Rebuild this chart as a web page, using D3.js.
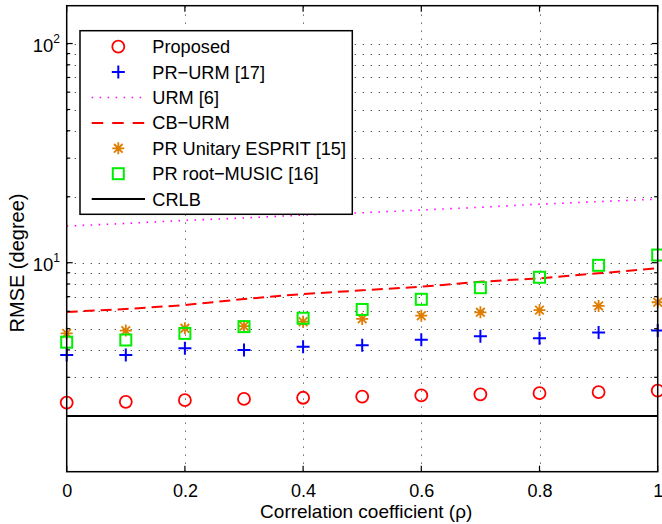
<!DOCTYPE html>
<html>
<head>
<meta charset="utf-8">
<script src="https://cdn.jsdelivr.net/npm/d3@7/dist/d3.min.js"></script>
<style>
  html, body { margin: 0; padding: 0; background: #fff; }
  svg { display: block; }
  text { font-family: "Liberation Sans", Arial, Helvetica, sans-serif; fill: #000; }
</style>
</head>
<body>
<svg id="chart" width="662" height="524"></svg>
<script>
// ---- data ----
const rho = [0, 0.1, 0.2, 0.3, 0.4, 0.5, 0.6, 0.7, 0.8, 0.9, 1.0];
const proposed  = [2.30, 2.32, 2.36, 2.39, 2.42, 2.45, 2.48, 2.51, 2.54, 2.57, 2.61];
const prUrm     = [3.79, 3.79, 4.07, 4.00, 4.14, 4.20, 4.45, 4.62, 4.52, 4.81, 4.90];
const urm       = [14.7, 15.1, 15.6, 16.0, 16.5, 16.9, 17.4, 17.9, 18.5, 19.0, 19.5];
const cbUrm     = [5.96, 6.15, 6.41, 6.83, 7.20, 7.48, 7.77, 8.19, 8.49, 8.95, 9.43];
const esprit    = [4.76, 4.90, 5.02, 5.14, 5.38, 5.54, 5.73, 5.94, 6.08, 6.35, 6.60];
const rootMusic = [4.34, 4.44, 4.76, 5.11, 5.58, 6.12, 6.81, 7.69, 8.58, 9.73, 10.84];
const crlb      = [2.0, 2.0, 2.0, 2.0, 2.0, 2.0, 2.0, 2.0, 2.0, 2.0, 2.0];

const xTicks = [0, 0.2, 0.4, 0.6, 0.8, 1];
const xTickLabels = ["0", "0.2", "0.4", "0.6", "0.8", "1"];
const yMajorTicks = [10, 100];
const yMajorExp = ["1", "2"];
const yDomain = [1.113, 148.8];
const xDomain = [0, 1];

const legendLabels = ["Proposed", "PR\u2212URM [17]", "URM [6]", "CB\u2212URM",
                      "PR Unitary ESPRIT [15]", "PR root\u2212MUSIC [16]", "CRLB"];

// ---- layout ----
const L = 66.7, R = 657.7, T = 5.7, B = 471.7;
const svg = d3.select("#chart");
const x = d3.scaleLinear().domain(xDomain).range([L, R]);
const y = d3.scaleLog().domain(yDomain).range([B, T]);

// minor log ticks inside domain
const yMinor = [];
for (let dec = 1; dec <= 100; dec *= 10) {
  for (let m = 1; m <= 9; m++) {
    const v = m * dec;
    if (v >= yDomain[0] && v <= yDomain[1]) yMinor.push(v);
  }
}

// ---- grid ----
const grid = svg.append("g");
const gridStyle = sel => sel.attr("stroke", "#444").attr("stroke-width", 1)
  .attr("stroke-dasharray", "1.2,6.8").attr("fill", "none");
grid.selectAll("line.hg").data(yMinor).enter().append("line")
  .attr("x1", L).attr("x2", R)
  .attr("y1", d => Math.round(y(d)) + 0.5).attr("y2", d => Math.round(y(d)) + 0.5)
  .call(gridStyle);
grid.selectAll("line.vg").data(xTicks.slice(1, -1)).enter().append("line")
  .attr("y1", B).attr("y2", T)
  .attr("x1", d => Math.round(x(d)) + 0.5).attr("x2", d => Math.round(x(d)) + 0.5)
  .call(gridStyle);

// ---- series ----
const lineGen = d3.line().x((d, i) => x(rho[i])).y(d => y(d));
svg.append("path").datum(urm).attr("d", lineGen)
  .attr("fill", "none").attr("stroke", "#ff00ff").attr("stroke-width", 1.6)
  .attr("stroke-dasharray", "1.5,6.5");
svg.append("path").datum(cbUrm).attr("d", lineGen)
  .attr("fill", "none").attr("stroke", "#ff0000").attr("stroke-width", 2)
  .attr("stroke-dasharray", "11,6");
svg.append("path").datum(crlb).attr("d", lineGen)
  .attr("fill", "none").attr("stroke", "#000").attr("stroke-width", 2);

const ORANGE = "#de7d00";
function drawMarker(g, type, cx, cy) {
  if (type === "circle") {
    g.append("circle").attr("cx", cx).attr("cy", cy).attr("r", 6)
      .attr("fill", "none").attr("stroke", "#ff0000").attr("stroke-width", 1.8);
  } else if (type === "plus") {
    g.append("path").attr("d", `M${cx-6.5},${cy}H${cx+6.5}M${cx},${cy-6.5}V${cy+6.5}`)
      .attr("stroke", "#0000ff").attr("stroke-width", 2).attr("fill", "none");
  } else if (type === "star") {
    const a = 6, b = 4.3;
    g.append("path").attr("d",
      `M${cx-a},${cy}H${cx+a}M${cx},${cy-a}V${cy+a}M${cx-b},${cy-b}L${cx+b},${cy+b}M${cx-b},${cy+b}L${cx+b},${cy-b}`)
      .attr("stroke", ORANGE).attr("stroke-width", 1.8).attr("fill", "none");
  } else if (type === "square") {
    g.append("rect").attr("x", cx - 5.5).attr("y", cy - 5.5).attr("width", 11).attr("height", 11)
      .attr("fill", "none").attr("stroke", "#00ee00").attr("stroke-width", 2);
  }
}
const markerSeries = [
  [esprit, "star"], [rootMusic, "square"], [prUrm, "plus"], [proposed, "circle"]
];
markerSeries.forEach(([vals, type]) => {
  const g = svg.append("g");
  vals.forEach((v, i) => drawMarker(g, type, x(rho[i]), y(v)));
});

// ---- axes box & ticks ----
const ax = svg.append("g").attr("stroke", "#000").attr("fill", "none");
ax.append("rect").attr("x", L).attr("y", T).attr("width", R - L).attr("height", B - T)
  .attr("stroke-width", 1.5);
xTicks.forEach(t => {
  const xx = x(t);
  ax.append("line").attr("x1", xx).attr("x2", xx).attr("y1", B).attr("y2", B - 6).attr("stroke-width", 1.2);
  ax.append("line").attr("x1", xx).attr("x2", xx).attr("y1", T).attr("y2", T + 6).attr("stroke-width", 1.2);
});
yMinor.forEach(t => {
  const yy = y(t);
  const len = yMajorTicks.includes(t) ? 6 : 3.5;
  ax.append("line").attr("x1", L).attr("x2", L + len).attr("y1", yy).attr("y2", yy).attr("stroke-width", 1.2);
  ax.append("line").attr("x1", R).attr("x2", R - len).attr("y1", yy).attr("y2", yy).attr("stroke-width", 1.2);
});

// tick labels
const xAxis = d3.axisBottom(x).tickValues(xTicks).tickFormat((d, i) => xTickLabels[i]).tickSize(0);
const xg = svg.append("g").attr("transform", `translate(0,${B})`).call(xAxis);
xg.select(".domain").remove();
xg.selectAll("text").attr("font-size", 18)
  .attr("font-family", '"Liberation Sans", Arial, Helvetica, sans-serif')
  .attr("fill", "#000").attr("dy", null).attr("y", 25);

yMajorTicks.forEach((t, i) => {
  const yy = y(t);
  const tx = svg.append("text").attr("x", 60).attr("y", yy + 8.5)
    .attr("text-anchor", "end").attr("font-size", 18.5);
  tx.append("tspan").text("10");
  tx.append("tspan").attr("font-size", 12).attr("dy", -9).text(yMajorExp[i]);
});

// axis titles
svg.append("text").attr("x", (L + R) / 2 + 4).attr("y", 518).attr("text-anchor", "middle")
  .attr("font-size", 19).text("Correlation coefficient (\u03C1)");
svg.append("text").attr("transform", "translate(23.5,263) rotate(-90)")
  .attr("text-anchor", "middle").attr("font-size", 20).text("RMSE (degree)");

// ---- legend ----
const lg = svg.append("g");
const lgX = 80, lgY = 30.7, lgW = 272.3, lgH = 183.6;
lg.append("rect").attr("x", lgX).attr("y", lgY).attr("width", lgW).attr("height", lgH)
  .attr("fill", "#fff").attr("stroke", "#000").attr("stroke-width", 1.5);
const rowY0 = 46.7, rowDY = 25.4;
const sx1 = 91.7, sx2 = 145, smx = 118.3, tx0 = 152.3;
const legendKinds = ["circle", "plus", "urm", "cb", "star", "square", "crlb"];
legendKinds.forEach((k, i) => {
  const yy = rowY0 + i * rowDY;
  if (k === "urm") {
    lg.append("line").attr("x1", sx1).attr("x2", sx2).attr("y1", yy).attr("y2", yy)
      .attr("stroke", "#ff00ff").attr("stroke-width", 1.6).attr("stroke-dasharray", "1.5,6.5");
  } else if (k === "cb") {
    lg.append("line").attr("x1", sx1).attr("x2", sx2).attr("y1", yy).attr("y2", yy)
      .attr("stroke", "#ff0000").attr("stroke-width", 2).attr("stroke-dasharray", "11.5,9");
  } else if (k === "crlb") {
    lg.append("line").attr("x1", sx1).attr("x2", sx2).attr("y1", yy).attr("y2", yy)
      .attr("stroke", "#000").attr("stroke-width", 2);
  } else {
    drawMarker(lg, k, smx, yy);
  }
  lg.append("text").attr("x", tx0).attr("y", yy + 6.5).attr("font-size", 18.2).text(legendLabels[i]);
});
</script>
</body>
</html>
